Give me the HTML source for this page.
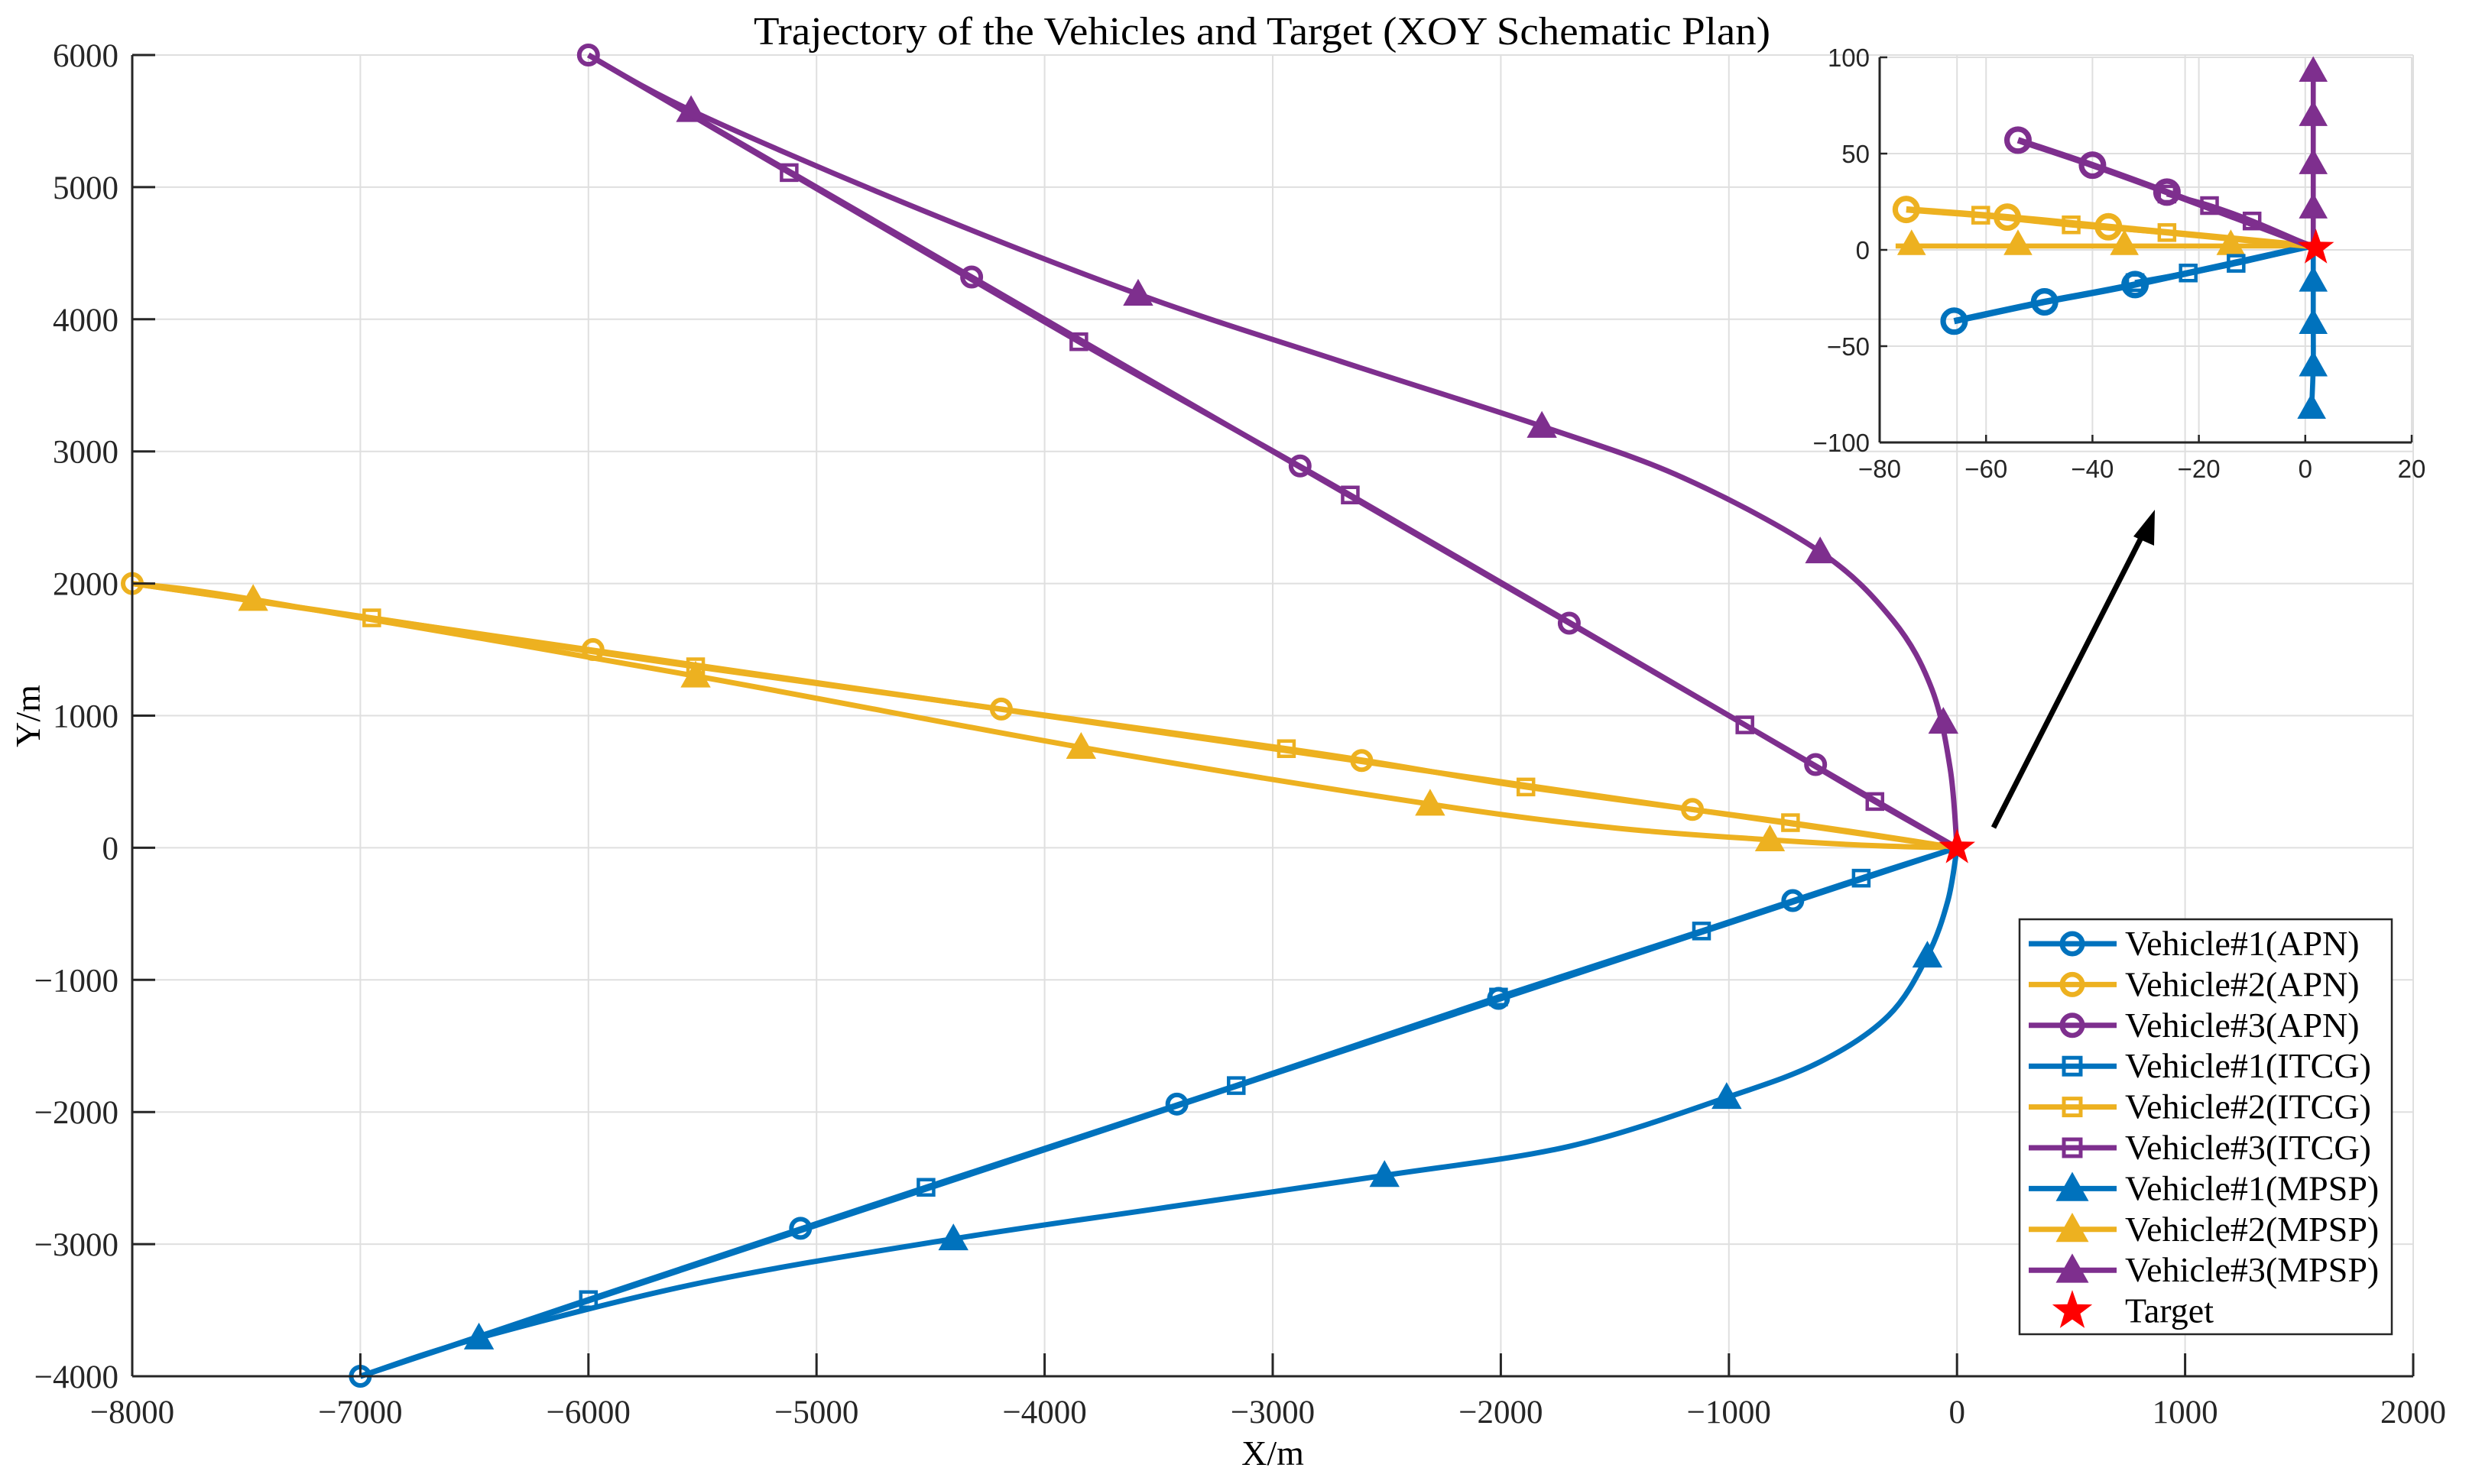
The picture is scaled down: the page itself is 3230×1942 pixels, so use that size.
<!DOCTYPE html>
<html><head><meta charset="utf-8"><style>
html,body{margin:0;padding:0;background:#fff;}
svg{display:block;font-family:"Liberation Serif",serif;}
</style></head><body>
<svg id="chart" width="3230" height="1942" viewBox="0 0 3230 1942" xmlns="http://www.w3.org/2000/svg">
<g id="grid"></g>
<g id="inset"></g>
<g id="series"></g>
<g id="axes"></g>
<text x="1651" y="58" font-size="52" text-anchor="middle" textLength="1330" lengthAdjust="spacingAndGlyphs">Trajectory of the Vehicles and Target (XOY Schematic Plan)</text>
<text x="1665" y="1917" font-size="46" text-anchor="middle">X/m</text>
<text x="0" y="0" font-size="46" text-anchor="middle" transform="translate(52,937) rotate(-90)">Y/m</text>
<g>
<line x1="2608" y1="1083" x2="2806" y2="694" stroke="#000" stroke-width="7"/>
<polygon points="2819,667 2791,702 2818,714" fill="#000"/>
</g>
<g id="legend"></g>
</svg>
<script>
// ---------- data ----------
const xTicks = [-8000,-7000,-6000,-5000,-4000,-3000,-2000,-1000,0,1000,2000];
const yTicks = [-4000,-3000,-2000,-1000,0,1000,2000,3000,4000,5000,6000];
const insetXTicks = [-80,-60,-40,-20,0,20];
const insetYTicks = [-100,-50,0,50,100];
const seriesNames = ["Vehicle#1(APN)","Vehicle#2(APN)","Vehicle#3(APN)","Vehicle#1(ITCG)","Vehicle#2(ITCG)","Vehicle#3(ITCG)","Vehicle#1(MPSP)","Vehicle#2(MPSP)","Vehicle#3(MPSP)","Target"];

// main trajectories (path points)
const v1ApnX = [-7000,0], v1ApnY = [-4000,0];
const v2ApnX = [-8000,0], v2ApnY = [2000,0];
const v3ApnX = [-6000,0], v3ApnY = [6000,0];
const v1ItcgX = [-7000,-6000,-4520,-3160,-2010,-1120,-420,0], v1ItcgY = [-4000,-3420,-2570,-1800,-1130,-630,-230,0];
const v2ItcgX = [-8000,-6950,-5530,-2940,-1890,-730,0], v2ItcgY = [2000,1740,1370,750,460,190,0];
const v3ItcgX = [-6000,-5120,-3850,-2660,-930,-360,0], v3ItcgY = [6000,5110,3830,2670,930,350,0];
const v1MpspX = [-7000,-6480,-5500,-4400,-3500,-2510,-1700,-1010,-600,-300,-130,-40,0];
const v1MpspY = [-4000,-3710,-3290,-2960,-2730,-2480,-2260,-1890,-1620,-1270,-820,-400,0];
const v2MpspX = [-8000,-7470,-5530,-3840,-2310,-1500,-820,-350,0];
const v2MpspY = [2000,1880,1300,760,330,150,60,15,0];
const v3MpspX = [-6000,-5550,-4600,-3590,-2700,-1820,-1200,-600,-280,-110,-30,0];
const v3MpspY = [6000,5580,4870,4190,3680,3190,2800,2240,1720,1200,600,0];

// marker positions (main)
const v1ApnMX = [-7000,-5070,-3420,-2010,-720], v1ApnMY = [-4000,-2880,-1940,-1140,-400];
const v2ApnMX = [-8000,-5980,-4190,-2610,-1160], v2ApnMY = [2000,1500,1050,660,290];
const v3ApnMX = [-6000,-4320,-2880,-1700,-620], v3ApnMY = [6000,4320,2890,1700,630];
const v1ItcgMX = [-6000,-4520,-3160,-2010,-1120,-420], v1ItcgMY = [-3420,-2570,-1800,-1130,-630,-230];
const v2ItcgMX = [-6950,-5530,-2940,-1890,-730], v2ItcgMY = [1740,1370,750,460,190];
const v3ItcgMX = [-5120,-3850,-2660,-930,-360], v3ItcgMY = [5110,3830,2670,930,350];
const v1MpspMX = [-6480,-4400,-2510,-1010,-130], v1MpspMY = [-3710,-2960,-2480,-1890,-820];
const v2MpspMX = [-7470,-5530,-3840,-2310,-820], v2MpspMY = [1880,1300,760,330,60];
const v3MpspMX = [-5550,-3590,-1820,-600,-60], v3MpspMY = [5580,4190,3190,2240,950];
const targetX = [0], targetY = [0];

// inset data
const iV1ApnX = [-66,-49,-32,1], iV1ApnY = [-37,-27,-18,2];
const iV2ApnX = [-75,-56,-37,1], iV2ApnY = [21,17,12,2];
const iV3ApnX = [-54,-40,-26,1], iV3ApnY = [57,44,30,2];
const iV1ItcgX = [-32,-22,-13,1], iV1ItcgY = [-17,-12,-7,2];
const iV2ItcgX = [-61,-44,-26,1], iV2ItcgY = [18,13,9,2];
const iV3ItcgX = [-26,-18,-10,1], iV3ItcgY = [29,23,15,2];
const iV1MpspX = [1.5,1.5,1.5,1.5,1.2], iV1MpspY = [2,-16,-38,-60,-82];
const iV2MpspX = [-77,-74,-54,-34,-14,1], iV2MpspY = [2,2,2,2,2,2];
const iV3MpspX = [1.5,1.5,1.5,1.5,1.5], iV3MpspY = [2,22,45,70,93];
const iV1MpspMX = [1.5,1.5,1.5,1.2], iV1MpspMY = [-16,-38,-60,-82];
const iV2MpspMX = [-74,-54,-34,-14], iV2MpspMY = [3,3,3,3];
const iV3MpspMX = [1.5,1.5,1.5,1.5], iV3MpspMY = [22,45,70,93];
const iTargetX = [2], iTargetY = [1];

// ---------- scales ----------
const L=173,R=3157,T=72,B=1801;
const sx = v => L + (v+8000)/10000*(R-L);
const sy = v => B - (v+4000)/10000*(B-T);
const IL=2459,IR=3155,IT=75,IB=579;
const ix = v => IL + (v+80)/100*(IR-IL);
const iy = v => IB - (v+100)/200*(IB-IT);

const BLUE="#0072BD",YEL="#EDB120",PUR="#7E2F8E";
const NS="http://www.w3.org/2000/svg";
function mk(tag, parent, attrs){const e=document.createElementNS(NS,tag);for(const k in attrs)e.setAttribute(k,attrs[k]);parent.appendChild(e);return e;}

const grid=document.getElementById('grid'), axes=document.getElementById('axes'), series=document.getElementById('series'), inset=document.getElementById('inset'), legend=document.getElementById('legend');

// main grid
xTicks.forEach(t=>{const l=mk('line',grid,{x1:sx(t),x2:sx(t),y1:T,y2:B,stroke:'#dfdfdf','stroke-width':2});

});
yTicks.forEach(t=>{const l=mk('line',grid,{x1:L,x2:R,y1:sy(t),y2:sy(t),stroke:'#dfdfdf','stroke-width':2});

});

// main axes
mk('line',axes,{x1:L,x2:R,y1:B,y2:B,stroke:'#262626','stroke-width':3});
mk('line',axes,{x1:L,x2:L,y1:T,y2:B,stroke:'#262626','stroke-width':3});
xTicks.forEach(t=>{mk('line',axes,{x1:sx(t),x2:sx(t),y1:B,y2:B-30,stroke:'#262626','stroke-width':3});
const tx=mk('text',axes,{x:sx(t),y:1862,'font-size':43,'text-anchor':'middle',fill:'#262626'});tx.textContent=t===0?'0':(t<0?'\u2212'+(-t):String(t));

});
yTicks.forEach(t=>{mk('line',axes,{x1:L,x2:L+30,y1:sy(t),y2:sy(t),stroke:'#262626','stroke-width':3});
const tx=mk('text',axes,{x:155,y:sy(t)+15,'font-size':43,'text-anchor':'end',fill:'#262626'});tx.textContent=t===0?'0':(t<0?'\u2212'+(-t):String(t));

});

// curve helper (Catmull-Rom)
function pathD(X,Y,fx,fy){
  const p=X.map((x,i)=>[fx(x),fy(Y[i])]);
  let d='M'+p[0][0]+','+p[0][1];
  for(let i=0;i<p.length-1;i++){
    const p0=p[i-1]||p[i],p1=p[i],p2=p[i+1],p3=p[i+2]||p[i+1];
    const c1=[p1[0]+(p2[0]-p0[0])/6,p1[1]+(p2[1]-p0[1])/6];
    const c2=[p2[0]-(p3[0]-p1[0])/6,p2[1]-(p3[1]-p1[1])/6];
    d+=' C'+c1[0]+','+c1[1]+' '+c2[0]+','+c2[1]+' '+p2[0]+','+p2[1];
  }
  return d;
}
function marker(parent,type,x,y,color,s){
  let e;
  if(type==='o'){e=mk('circle',parent,{cx:x,cy:y,r:12*s,fill:'none',stroke:color,'stroke-width':6*s});}
  else if(type==='s'){e=mk('rect',parent,{x:x-10*s,y:y-10*s,width:20*s,height:20*s,fill:'none',stroke:color,'stroke-width':4.5*s});}
  else if(type==='^'){e=mk('polygon',parent,{points:`${x},${y-18*s} ${x-18*s},${y+14*s} ${x+18*s},${y+14*s}`,fill:color,stroke:color,'stroke-width':2});}
  else {const pts=[];for(let k=0;k<10;k++){const a=-Math.PI/2+k*Math.PI/5;const r=k%2?10*s:25*s;pts.push((x+r*Math.cos(a))+','+(y+r*Math.sin(a)));}
    e=mk('polygon',parent,{points:pts.join(' '),fill:'#ff0000'});}
  return e;
}
function drawSeries(parent,name,X,Y,MX,MY,type,color,fx,fy,s){
  const g=mk('g',parent,{});
  
  
  if(X.length>1){mk('path',g,{d:pathD(X,Y,fx,fy),fill:'none',stroke:color,'stroke-width':7*s,'stroke-linejoin':'round'});}
  MX.forEach((x,i)=>{const m=marker(g,type,fx(x),fy(MY[i]),color,s);
    
    });
}
// main series
drawSeries(series,'v1-mpsp',v1MpspX,v1MpspY,v1MpspMX,v1MpspMY,'^',BLUE,sx,sy,1);
drawSeries(series,'v2-mpsp',v2MpspX,v2MpspY,v2MpspMX,v2MpspMY,'^',YEL,sx,sy,1);
drawSeries(series,'v3-mpsp',v3MpspX,v3MpspY,v3MpspMX,v3MpspMY,'^',PUR,sx,sy,1);
drawSeries(series,'v1-itcg',v1ItcgX,v1ItcgY,v1ItcgMX,v1ItcgMY,'s',BLUE,sx,sy,1);
drawSeries(series,'v2-itcg',v2ItcgX,v2ItcgY,v2ItcgMX,v2ItcgMY,'s',YEL,sx,sy,1);
drawSeries(series,'v3-itcg',v3ItcgX,v3ItcgY,v3ItcgMX,v3ItcgMY,'s',PUR,sx,sy,1);
drawSeries(series,'v1-apn',v1ApnX,v1ApnY,v1ApnMX,v1ApnMY,'o',BLUE,sx,sy,1);
drawSeries(series,'v2-apn',v2ApnX,v2ApnY,v2ApnMX,v2ApnMY,'o',YEL,sx,sy,1);
drawSeries(series,'v3-apn',v3ApnX,v3ApnY,v3ApnMX,v3ApnMY,'o',PUR,sx,sy,1);
drawSeries(series,'target',targetX,targetY,targetX,targetY,'*','#f00',sx,sy,1);

// inset
insetXTicks.forEach(t=>{const l=mk('line',inset,{x1:ix(t),x2:ix(t),y1:IT,y2:IB,stroke:'#dfdfdf','stroke-width':2});


mk('line',inset,{x1:ix(t),x2:ix(t),y1:IB,y2:IB-10,stroke:'#262626','stroke-width':2.5});
const tx=mk('text',inset,{x:ix(t),y:625,'font-size':33,'text-anchor':'middle','font-family':'Liberation Sans, sans-serif',fill:'#262626'});tx.textContent=t<0?'\u2212'+(-t):String(t);

});
insetYTicks.forEach(t=>{const l=mk('line',inset,{x1:IL,x2:IR,y1:iy(t),y2:iy(t),stroke:'#dfdfdf','stroke-width':2});


mk('line',inset,{x1:IL,x2:IL+10,y1:iy(t),y2:iy(t),stroke:'#262626','stroke-width':2.5});
const tx=mk('text',inset,{x:2446,y:iy(t)+12,'font-size':33,'text-anchor':'end','font-family':'Liberation Sans, sans-serif',fill:'#262626'});tx.textContent=t<0?'\u2212'+(-t):String(t);

});
mk('line',inset,{x1:IL,x2:IR,y1:IB,y2:IB,stroke:'#262626','stroke-width':3});
mk('line',inset,{x1:IL,x2:IL,y1:IT,y2:IB,stroke:'#262626','stroke-width':3});
drawSeries(inset,'inset-v2-mpsp',iV2MpspX,iV2MpspY,iV2MpspMX,iV2MpspMY,'^',YEL,ix,iy,0.95);
drawSeries(inset,'inset-v1-mpsp',iV1MpspX,iV1MpspY,iV1MpspMX,iV1MpspMY,'^',BLUE,ix,iy,0.95);
drawSeries(inset,'inset-v3-mpsp',iV3MpspX,iV3MpspY,iV3MpspMX,iV3MpspMY,'^',PUR,ix,iy,0.95);
drawSeries(inset,'inset-v1-itcg',iV1ItcgX,iV1ItcgY,iV1ItcgX.slice(0,-1),iV1ItcgY.slice(0,-1),'s',BLUE,ix,iy,1);
drawSeries(inset,'inset-v2-itcg',iV2ItcgX,iV2ItcgY,iV2ItcgX.slice(0,-1),iV2ItcgY.slice(0,-1),'s',YEL,ix,iy,1);
drawSeries(inset,'inset-v3-itcg',iV3ItcgX,iV3ItcgY,iV3ItcgX.slice(0,-1),iV3ItcgY.slice(0,-1),'s',PUR,ix,iy,1);
drawSeries(inset,'inset-v1-apn',iV1ApnX,iV1ApnY,iV1ApnX.slice(0,-1),iV1ApnY.slice(0,-1),'o',BLUE,ix,iy,1.2);
drawSeries(inset,'inset-v2-apn',iV2ApnX,iV2ApnY,iV2ApnX.slice(0,-1),iV2ApnY.slice(0,-1),'o',YEL,ix,iy,1.2);
drawSeries(inset,'inset-v3-apn',iV3ApnX,iV3ApnY,iV3ApnX.slice(0,-1),iV3ApnY.slice(0,-1),'o',PUR,ix,iy,1.2);
drawSeries(inset,'inset-target',iTargetX,iTargetY,iTargetX,iTargetY,'*','#f00',ix,iy,1);

// legend
mk('rect',legend,{x:2642,y:1203,width:487,height:543,fill:'#fff',stroke:'#262626','stroke-width':2.5});
const legTypes=['o','o','o','s','s','s','^','^','^','*'];
const legCols=[BLUE,YEL,PUR,BLUE,YEL,PUR,BLUE,YEL,PUR,'#f00'];
seriesNames.forEach((n,i)=>{
  const y=1235+i*53.4;
  const g=mk('g',legend,{});
  
  
  if(i<9) mk('line',g,{x1:2654,x2:2769,y1:y,y2:y,stroke:legCols[i],'stroke-width':7});
  marker(g,legTypes[i],2711,y,legCols[i],1.1);
  const t=mk('text',g,{x:2780,y:y+15,'font-size':46,fill:'#000'});t.textContent=n;
});
</script>
</body></html>
